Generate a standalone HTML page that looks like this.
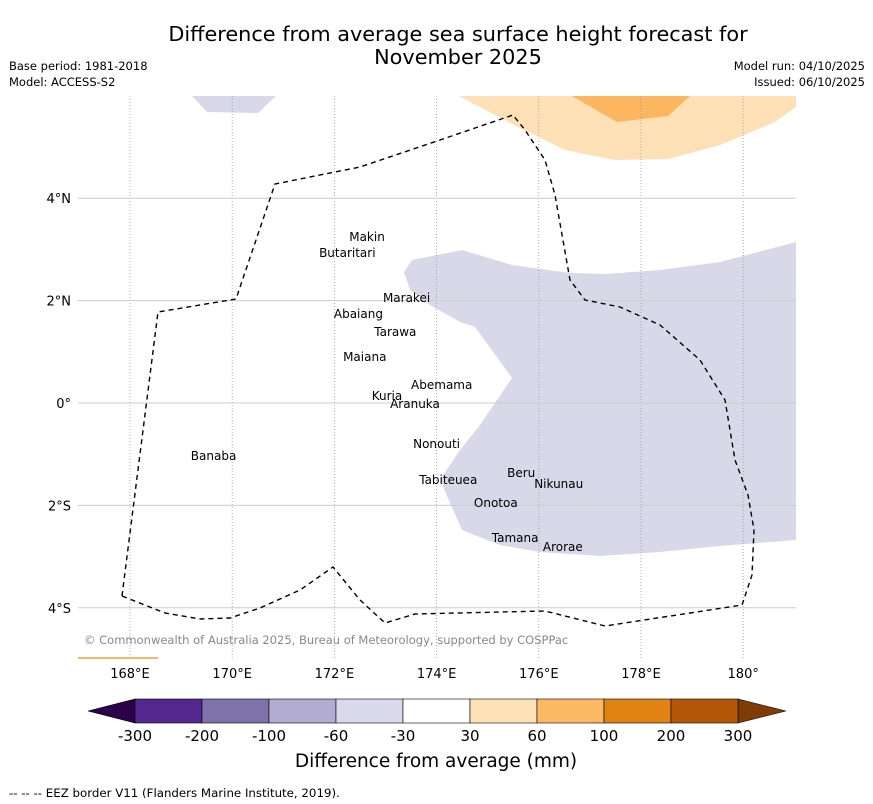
<!DOCTYPE html>
<html><head><meta charset="utf-8"><style>
body{margin:0;background:#fff;}
svg{display:block;font-family:"DejaVu Sans","Liberation Sans",sans-serif;}
</style></head><body>
<svg id="chart" width="873" height="804" viewBox="0 0 873 804">
<text x="458" y="41" text-anchor="middle" font-size="20.8">Difference from average sea surface height forecast for</text>
<text x="458" y="64" text-anchor="middle" font-size="20.8">November 2025</text>
<text x="9" y="70" font-size="11.5">Base period: 1981-2018</text>
<text x="9" y="86" font-size="11.5">Model: ACCESS-S2</text>
<text x="865" y="70" font-size="11.5" text-anchor="end">Model run: 04/10/2025</text>
<text x="865" y="86" font-size="11.5" text-anchor="end">Issued: 06/10/2025</text>
<g id="map">
<polygon points="404,272 412,260 462,250 512,265 570,273 605,274 660,270 720,262 796,242 796,540 720,546 660,552 600,556 540,552 500,545 462,530 440,480 460,450 480,425 512,378 475,327 460,322 430,305 410,290" fill="#d8d8e8"/>
<polygon points="192,96 276,96 258,113 207,112" fill="#d8d8e8"/>
<polygon points="459,96 796,96 796,107 775,122 720,145 668,159 615,160 565,150 520,128" fill="#fee0b6"/>
<polygon points="572,96 690,96 668,116 617,122" fill="#fdb660"/>
<line x1="78" y1="658" x2="158" y2="658" stroke="#fdb660" stroke-width="2"/>
<g id="grid"></g>
<polyline points="122,596 158,312 236,299 275,184 360,167 440,140 513,115 525,130 545,160 555,195 570,280 585,300 620,307 660,325 700,360 725,400 735,460 748,495 754,530 752,575 742,605 690,613 605,626 545,611 415,614 385,623 360,600 333,567 300,590 260,608 230,618 200,619 165,613 122,596" fill="none" stroke="#000" stroke-width="1.4" stroke-dasharray="5,4"/>
<g id="islands"></g>
<text x="84" y="644" font-size="11.5" fill="#888">© Commonwealth of Australia 2025, Bureau of Meteorology, supported by COSPPac</text>
</g>
<g id="cbar"></g>
<text x="436" y="767" text-anchor="middle" font-size="18.5">Difference from average (mm)</text>
<text x="9" y="797" font-size="11.8">--  --  -- EEZ border V11 (Flanders Marine Institute, 2019).</text>
</svg>
<script>
const lonTicks=[168,170,172,174,176,178,180];
const lonLabels=["168°E","170°E","172°E","174°E","176°E","178°E","180°"];
const latTicks=[4,2,0,-2,-4];
const latLabels=["4°N","2°N","0°","2°S","4°S"];
const islandNames=["Makin","Butaritari","Marakei","Abaiang","Tarawa","Maiana","Abemama","Kuria","Aranuka","Nonouti","Tabiteuea","Beru","Nikunau","Onotoa","Tamana","Arorae","Banaba"];
const islandLon=[172.29,171.70,172.95,171.99,172.78,172.17,173.50,172.73,173.09,173.54,173.66,175.38,175.91,174.73,175.08,176.08,169.19];
const islandLat=[3.16,2.85,1.97,1.66,1.31,0.82,0.27,0.06,-0.10,-0.88,-1.58,-1.45,-1.66,-2.03,-2.71,-2.89,-1.11];
const cbBounds=[-300,-200,-100,-60,-30,30,60,100,200,300];
const cbColors=["#54278f","#8073ac","#b2abd2","#d8daeb","#ffffff","#fee0b6","#fdb863","#e08214","#b35806"];
const NS="http://www.w3.org/2000/svg";
function X(lon){return 130+(lon-168)*51.1;}
function Y(lat){return 403-lat*51.2;}
function mk(t,a,p,txt){const e=document.createElementNS(NS,t);for(const k in a)e.setAttribute(k,a[k]);if(txt!==undefined)e.textContent=txt;p.appendChild(e);return e;}
const grid=document.getElementById('grid');
lonTicks.forEach((v,i)=>{
 const l=mk('line',{x1:X(v),x2:X(v),y1:96,y2:658,stroke:'#999','stroke-width':0.8,'stroke-dasharray':'1,2'},grid);
 
 
 const t=mk('text',{x:X(v),y:678,'text-anchor':'middle','font-size':13},grid,lonLabels[i]);
 
 
});
latTicks.forEach((v,i)=>{
 const l=mk('line',{x1:78,x2:796,y1:Y(v),y2:Y(v),stroke:'#ccc','stroke-width':1},grid);
 
 
 const t=mk('text',{x:71,y:Y(v)+5,'text-anchor':'end','font-size':13},grid,latLabels[i]);
 
 
});
const isl=document.getElementById('islands');
islandNames.forEach((n,i)=>{
 const x=X(islandLon[i]),y=Y(islandLat[i]);
 const t=mk('text',{x:x,y:y,'font-size':12},isl,n);
 
 
});
const cb=document.getElementById('cbar');
const cx0=135,cx1=738,cy=699,ch=24,seg=(cx1-cx0)/cbColors.length;
const la=mk('polygon',{points:`${cx0},${cy} ${cx0},${cy+ch} 88,${cy+ch/2}`,fill:'#2d004b',stroke:'#000','stroke-width':0.6},cb);


const ra=mk('polygon',{points:`${cx1},${cy} ${cx1},${cy+ch} 786,${cy+ch/2}`,fill:'#7f3b08',stroke:'#000','stroke-width':0.6},cb);


cbColors.forEach((c,i)=>{
 const r=mk('rect',{x:cx0+i*seg,y:cy,width:seg,height:ch,fill:c,stroke:'#000','stroke-width':0.6},cb);
 
 
});
cbBounds.forEach((b,i)=>{
 const t=mk('text',{x:cx0+i*seg,y:741,'text-anchor':'middle','font-size':15},cb,String(b));
 
 
});
</script>
</body></html>
